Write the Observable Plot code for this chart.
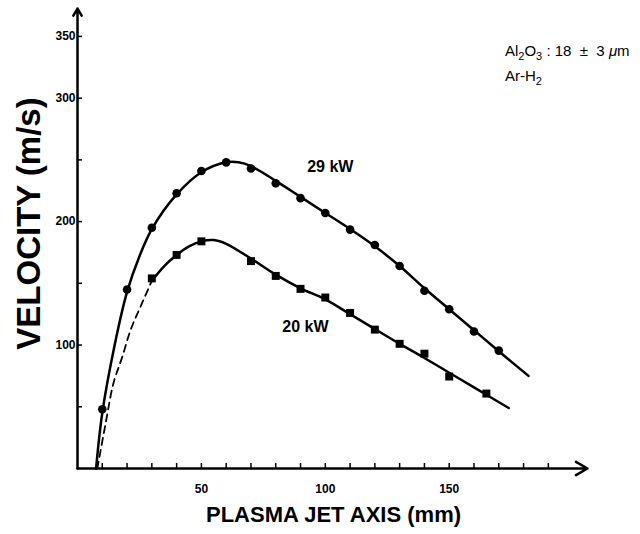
<!DOCTYPE html>
<html>
<head>
<meta charset="utf-8">
<script src="https://cdn.jsdelivr.net/npm/d3@7"></script>
<script src="https://cdn.jsdelivr.net/npm/@observablehq/plot@0.6"></script>
<style>
  body { margin: 0; background: #fff; }
  #chart svg { display: block; }
</style>
</head>
<body>
<div id="chart"></div>
<script>
// Axis ticks and labels
const xTicks = [10, 20, 30, 40, 50, 60, 70, 80, 90, 100, 110, 120, 130, 140, 150, 160, 170, 180, 190];
const xLabels = [50, 100, 150];
const yTicks = [50, 100, 150, 200, 250, 300, 350];
const yLabels = [100, 200, 300, 350];
const xDomain = [0, 205];
const yDomain = [0, 371];

// Measured particle velocities, 29 kW (circles)
const dist29 = [10, 20, 30, 40, 50, 60, 70, 80, 90, 100, 110, 120, 130, 140, 150, 160, 170];
const vel29  = [48, 145, 195, 223, 241, 248, 243, 231, 219, 207, 193.5, 181, 164, 144, 129, 111, 95.5];

// Measured particle velocities, 20 kW (squares)
const dist20 = [30, 40, 50, 70, 80, 90, 100, 110, 120, 130, 140, 150, 165];
const vel20  = [154, 173, 184, 168, 156, 145.5, 138.5, 126, 112.5, 101, 93, 74.5, 60.7];

// Hand-fitted trend curves
const fit29Dist = [7.5, 10, 15, 20, 25, 30, 40, 50, 60, 65, 70, 80, 90, 100, 110, 120, 130, 140, 150, 160, 170, 182];
const fit29Vel  = [0, 45, 100, 143, 172, 194, 222, 240, 248, 248, 245, 233, 220, 207, 194, 180, 164, 146, 129, 112, 95, 75];
const fit20Dist = [30, 35, 40, 45, 50, 55, 60, 70, 80, 90, 100, 110, 120, 130, 140, 150, 160, 174];
const fit20Vel  = [152, 164, 173, 180, 184, 185, 182, 170, 157, 146, 137, 125, 113, 101, 89.5, 77.6, 65.7, 49];
// Extrapolated (dashed) start of the 20 kW curve
const ext20Dist = [8, 11.3, 14.5, 18, 21.4, 25.4, 30];
const ext20Vel  = [0, 36, 69, 90, 112, 131, 152];

const seriesNames = ["29 kW", "20 kW"];
const noteLines = ["Al\u2082O\u2083 : 18  \u00B1  3 \u03BCm", "Ar-H\u2082"];

const zip = (xs, ys) => xs.map((x, i) => ({x, y: ys[i]}));
const pts29 = zip(dist29, vel29);
const pts20 = zip(dist20, vel20);
const curve29 = zip(fit29Dist, fit29Vel);
const curve20 = zip(fit20Dist, fit20Vel);
const curveExt = zip(ext20Dist, ext20Vel);

const font = "'Liberation Sans', Arial, Helvetica, sans-serif";

const chart = Plot.plot({
  width: 640,
  height: 534,
  marginLeft: 77,
  marginRight: 55,
  marginTop: 10,
  marginBottom: 66,
  x: {domain: xDomain},
  y: {domain: yDomain},
  style: {fontFamily: font, background: "#fff", color: "#000"},
  marks: [
    // Axis lines with arrowheads
    Plot.arrow([{x1: 0, y1: 0, x2: xDomain[1], y2: 0}], {
      x1: "x1", y1: "y1", x2: "x2", y2: "y2",
      stroke: "#000", strokeWidth: 2.5, headLength: 8, insetEnd: -2
    }),
    Plot.arrow([{x1: 0, y1: 0, x2: 0, y2: yDomain[1]}], {
      x1: "x1", y1: "y1", x2: "x2", y2: "y2",
      stroke: "#000", strokeWidth: 2.5, headLength: 5, insetEnd: -2
    }),
    // Ticks (inward) and numeric labels
    Plot.axisX({
      ticks: xTicks, tickSize: -5, tickFormat: () => "", label: null, strokeWidth: 1.5
    }),
    Plot.axisX({
      ticks: xLabels, tickSize: 0, tickPadding: 16, label: null,
      fontSize: 12, fontWeight: "bold"
    }),
    Plot.axisY({
      ticks: yTicks, tickSize: -5, tickFormat: () => "", label: null, strokeWidth: 1.5
    }),
    Plot.axisY({
      ticks: yLabels, tickSize: 0, tickPadding: 2, label: null,
      fontSize: 12, fontWeight: "bold"
    }),
    // Axis titles
    Plot.text(["VELOCITY (m/s)"], {
      frameAnchor: "left", textAnchor: "middle", rotate: -90, dx: -48, dy: -16,
      fontSize: 33, fontWeight: "bold", fill: "#000"
    }),
    Plot.text(["PLASMA JET AXIS (mm)"], {
      frameAnchor: "bottom", dx: 2, dy: 53,
      fontSize: 22, fontWeight: "bold", fill: "#000"
    }),
    // Fitted curves
    Plot.line(curve29, {x: "x", y: "y", curve: "catmull-rom", stroke: "#000", strokeWidth: 2.5}),
    Plot.line(curve20, {x: "x", y: "y", curve: "catmull-rom", stroke: "#000", strokeWidth: 2.5}),
    Plot.line(curveExt, {x: "x", y: "y", curve: "catmull-rom", stroke: "#000", strokeWidth: 1.8, strokeDasharray: "7,5"}),
    // Measured points
    Plot.dot(pts29, {x: "x", y: "y", r: 4.3, fill: "#000", stroke: null}),
    Plot.dot(pts20, {x: "x", y: "y", r: 4.5, symbol: "square", fill: "#000", stroke: null}),
    // Series labels
    Plot.text([seriesNames[0]], {x: 102, y: 244, fontSize: 16, fontWeight: "bold", fill: "#000", letterSpacing: "0.5px"}),
    Plot.text([seriesNames[1]], {x: 92, y: 115, fontSize: 16, fontWeight: "bold", fill: "#000", letterSpacing: "0.5px"}),
    // Material / gas note
    Plot.text(noteLines, {
      x: 172.5, y: (d, i) => [338, 318][i], textAnchor: "start",
      fontSize: 15, fill: "#000"
    })
  ]
});

// Typeset subscript digits of the chemical formulas as lowered, smaller tspans
const subDigits = "\u2080\u2081\u2082\u2083\u2084\u2085\u2086\u2087\u2088\u2089";
d3.select(chart).selectAll("text")
  .filter(function () { return noteLines.includes(this.textContent); })
  .each(function () {
    const el = d3.select(this);
    const str = this.textContent;
    el.text(null);
    let shifted = false;
    for (const ch of str) {
      const k = subDigits.indexOf(ch);
      if (k >= 0) {
        el.append("tspan").attr("dy", shifted ? 0 : 4).attr("font-size", 11).text(String(k));
        shifted = true;
      } else {
        el.append("tspan").attr("dy", shifted ? -4 : 0)
          .attr("font-style", ch === "\u03BC" ? "italic" : null)
          .text(ch === " " ? "\u00A0" : ch);
        shifted = false;
      }
    }
  });

document.getElementById("chart").append(chart);
</script>
</body>
</html>
